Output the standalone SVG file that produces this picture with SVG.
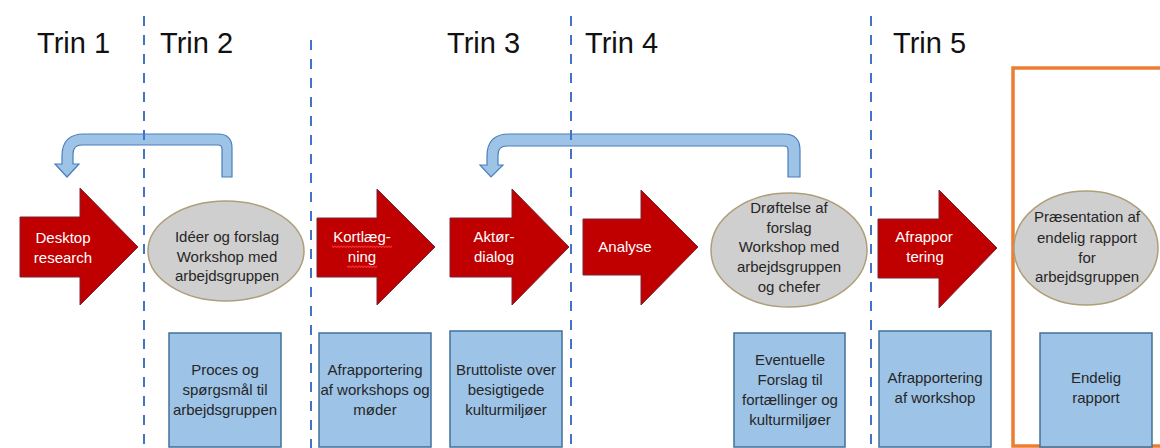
<svg xmlns="http://www.w3.org/2000/svg" width="1160" height="448" viewBox="0 0 1160 448">
<style>
.t{font-family:"Liberation Sans",Arial,sans-serif;}
.title{font-size:29px;fill:#111;}
.w{font-size:15px;fill:#fff;text-anchor:middle;}
.d{font-size:15px;fill:#262626;text-anchor:middle;}
.red{fill:#C00000;stroke:#7a2533;stroke-width:1;}
.ell{fill:#D0CFCF;stroke:#AE9F7B;stroke-width:1.5;}
.box{fill:#9DC3E6;stroke:#41719C;stroke-width:1.5;}
.loop{fill:#9DC3E6;stroke:#4A7EBB;stroke-width:1.2;}
.dash{stroke:#4472C4;stroke-width:2;stroke-dasharray:10 9;fill:none;}
.wavy{fill:none;stroke:#F03030;stroke-width:1.1;}
</style>
<rect width="1160" height="448" fill="#fff"/>

<g id="titles" class="t title">
<text x="37" y="53">Trin 1</text>
<text x="160" y="53">Trin 2</text>
<text x="447" y="53">Trin 3</text>
<text x="585" y="53">Trin 4</text>
<text x="893" y="53">Trin 5</text>
</g>

<g id="final-frame">
<rect x="1013" y="68" width="170" height="378" fill="none" stroke="#ED7D31" stroke-width="3.5"/>
</g>

<g id="connectors">
<path class="loop" d="M232,177 L232,148 Q232,134 218,134 L84,134 Q62,134 62,156 L62,164 L55,164 L67,177 L79,164 L73,164 L73,154 Q73,145 82,145 L218,145 Q222,145 222,149 L222,177 Z"/>
<path class="loop" d="M800,177 L800,150 Q800,134 784,134 L509,134 Q487,134 487,156 L487,165 L480,165 L491,177 L503,165 L498,165 L498,155 Q498,146 507,146 L784,146 Q788,146 788,150 L788,177 Z"/>
</g>

<g id="desktop-research">
<path class="red" d="M20,217 L80,217 L80,188 L138,247 L80,305 L80,277 L20,277 Z"/>
<text class="t w" x="63" y="243">Desktop</text>
<text class="t w" x="63" y="263">research</text>
</g>

<g id="ideer-workshop">
<ellipse class="ell" cx="226" cy="251" rx="78" ry="50"/>
<text class="t d" x="227" y="242">Idéer og forslag</text>
<text class="t d" x="227" y="262">Workshop med</text>
<text class="t d" x="227" y="281">arbejdsgruppen</text>
</g>

<g id="kortlaegning">
<path class="red" d="M317,218 L377,218 L377,189 L435,247 L377,305 L377,277 L317,277 Z"/>
<text class="t w" x="362" y="242">Kortlæg-</text>
<text class="t w" x="362" y="262">ning</text>
<path class="wavy" d="M332,246 l1.5,1.5 l1.5,-1.5 l1.5,1.5 l1.5,-1.5 l1.5,1.5 l1.5,-1.5 l1.5,1.5 l1.5,-1.5 l1.5,1.5 l1.5,-1.5 l1.5,1.5 l1.5,-1.5 l1.5,1.5 l1.5,-1.5 l1.5,1.5 l1.5,-1.5 l1.5,1.5 l1.5,-1.5 l1.5,1.5 l1.5,-1.5 l1.5,1.5 l1.5,-1.5 l1.5,1.5 l1.5,-1.5 l1.5,1.5 l1.5,-1.5 l1.5,1.5 l1.5,-1.5 l1.5,1.5 l1.5,-1.5 l1.5,1.5 l1.5,-1.5 l1.5,1.5 l1.5,-1.5 l1.5,1.5 l1.5,-1.5 l1.5,1.5 l1.5,-1.5 l1.5,1.5 l1.5,-1.5"/>
<path class="wavy" d="M347,266 l1.5,1.5 l1.5,-1.5 l1.5,1.5 l1.5,-1.5 l1.5,1.5 l1.5,-1.5 l1.5,1.5 l1.5,-1.5 l1.5,1.5 l1.5,-1.5 l1.5,1.5 l1.5,-1.5 l1.5,1.5 l1.5,-1.5 l1.5,1.5 l1.5,-1.5 l1.5,1.5 l1.5,-1.5 l1.5,1.5 l1.5,-1.5"/>
</g>

<g id="aktoer-dialog">
<path class="red" d="M450,218 L512,218 L512,189 L569,247 L512,305 L512,277 L450,277 Z"/>
<text class="t w" x="494" y="242">Aktør-</text>
<text class="t w" x="494" y="262">dialog</text>
</g>

<g id="analyse">
<path class="red" d="M583,219 L641,219 L641,190 L698,247 L641,305 L641,275 L583,275 Z"/>
<text class="t w" x="625" y="252">Analyse</text>
</g>

<g id="droeftelse-workshop">
<ellipse class="ell" cx="789" cy="250" rx="78" ry="57"/>
<text class="t d" x="789" y="213">Drøftelse af</text>
<text class="t d" x="789" y="233">forslag</text>
<text class="t d" x="789" y="252">Workshop med</text>
<text class="t d" x="789" y="272">arbejdsgruppen</text>
<text class="t d" x="789" y="292">og chefer</text>
</g>

<g id="afrapportering">
<path class="red" d="M878,219 L939,219 L939,190 L997,248 L939,308 L939,278 L878,278 Z"/>
<text class="t w" x="924" y="242">Afrappor</text>
<text class="t w" x="925" y="262">tering</text>
</g>

<g id="praesentation">
<ellipse class="ell" cx="1086" cy="248" rx="72" ry="57"/>
<text class="t d" x="1087" y="222">Præsentation af</text>
<text class="t d" x="1087" y="243">endelig rapport</text>
<text class="t d" x="1087" y="263">for</text>
<text class="t d" x="1087" y="282">arbejdsgruppen</text>
</g>

<g id="box-proces">
<rect class="box" x="169" y="333" width="112" height="114"/>
<text class="t d" x="225" y="375">Proces og</text>
<text class="t d" x="225" y="395">spørgsmål til</text>
<text class="t d" x="225" y="415">arbejdsgruppen</text>
</g>

<g id="box-afrapportering-workshops">
<rect class="box" x="319" y="333" width="112" height="114"/>
<text class="t d" x="375" y="375">Afrapportering</text>
<text class="t d" x="375" y="395">af workshops og</text>
<text class="t d" x="375" y="415">møder</text>
</g>

<g id="box-bruttoliste">
<rect class="box" x="450" y="331" width="112" height="116"/>
<text class="t d" x="506" y="375">Bruttoliste over</text>
<text class="t d" x="506" y="395">besigtigede</text>
<text class="t d" x="506" y="415">kulturmiljøer</text>
</g>

<g id="box-eventuelle">
<rect class="box" x="734" y="333" width="111" height="114"/>
<text class="t d" x="790" y="365">Eventuelle</text>
<text class="t d" x="790" y="385">Forslag til</text>
<text class="t d" x="790" y="405">fortællinger og</text>
<text class="t d" x="790" y="425">kulturmiljøer</text>
</g>

<g id="box-afrapportering-workshop">
<rect class="box" x="879" y="331" width="112" height="116"/>
<text class="t d" x="935" y="383">Afrapportering</text>
<text class="t d" x="935" y="403">af workshop</text>
</g>

<g id="box-endelig">
<rect class="box" x="1040" y="333" width="112" height="114"/>
<text class="t d" x="1096" y="383">Endelig</text>
<text class="t d" x="1096" y="403">rapport</text>
</g>

<g id="dividers">
<line class="dash" x1="144" y1="16" x2="144" y2="448"/>
<line class="dash" x1="311" y1="40" x2="311" y2="448"/>
<line class="dash" x1="571" y1="16" x2="571" y2="448"/>
<line class="dash" x1="871" y1="16" x2="871" y2="448"/>
</g>
</svg>
